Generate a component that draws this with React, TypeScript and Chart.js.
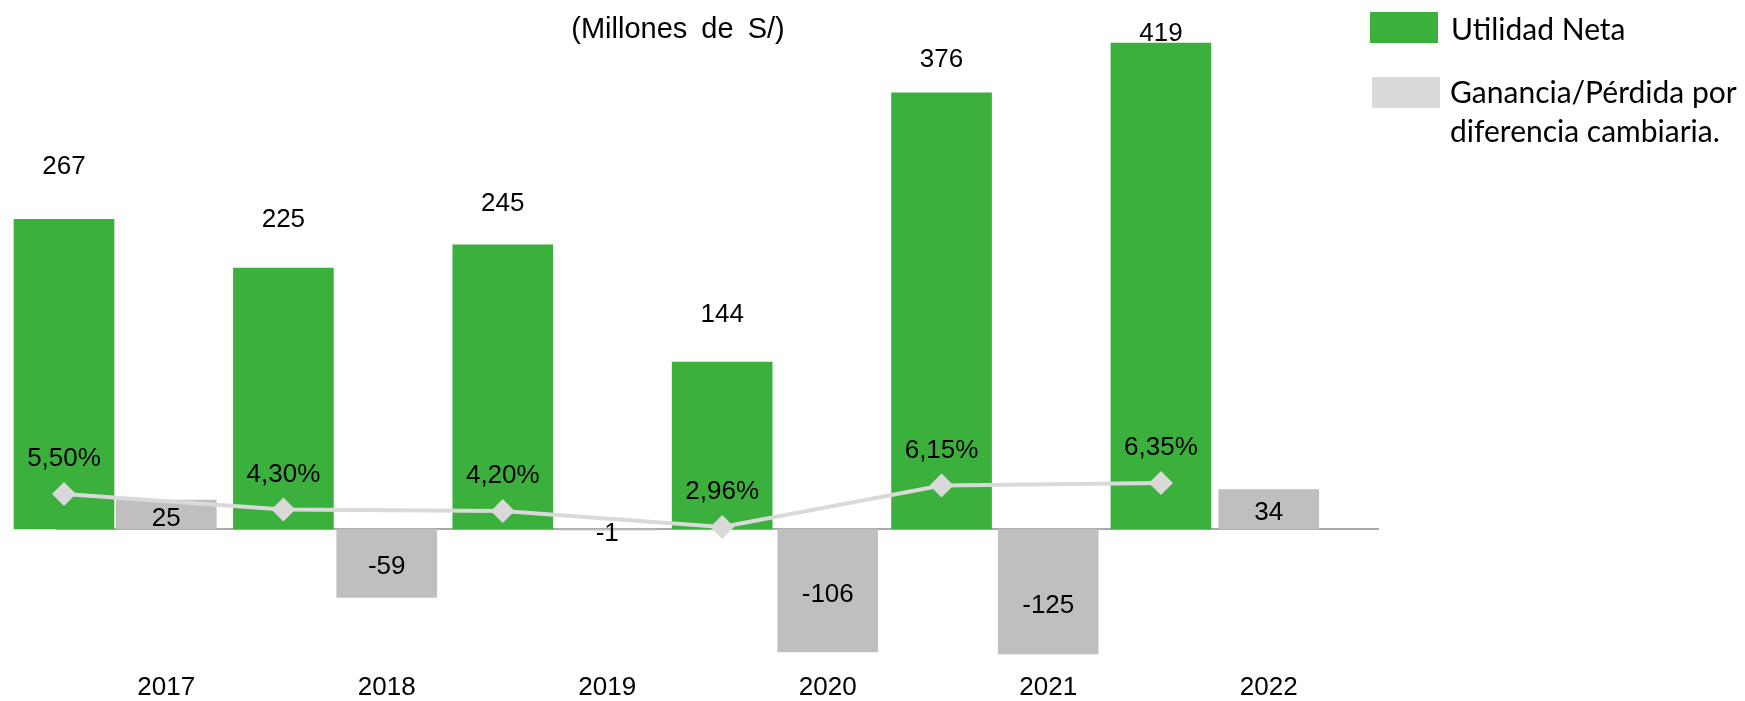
import React, { useEffect, useRef } from "react";
import { Chart, registerables } from "chart.js";

Chart.register(...registerables);

// ---- data ----
const years = ["2017", "2018", "2019", "2020", "2021", "2022"];
const netIncome = [267, 225, 245, 144, 376, 419];
const fxResult = [25, -59, -1, -106, -125, 34];
const netMargin = [5.5, 4.3, 4.2, 2.96, 6.15, 6.35];

// label lift above green bars (px, style)
const netLabelLift = [52, 48, 41, 47, 33, 9];

const TITLE = "(Millones de S/)";
const LEGEND_NET = "Utilidad Neta";
const LEGEND_FX = ["Ganancia/Pérdida por", "diferencia cambiaria."];

const GREEN = "#3cb03c";
const GRAY_BAR = "#bfbfbf";
const GRAY_LINE = "#d9d9d9";
const GRAY_SWATCH = "#d9d9d9";
const ARIAL = '"Liberation Sans", Arial, sans-serif';
const CALIBRI = 'Lato, "Open Sans", sans-serif';

const fmtPct = (v: number) => v.toFixed(2).replace(".", ",") + "%";

const overlayPlugin = {
  id: "overlay",
  beforeDatasetsDraw(chart: any) {
    const { ctx, chartArea } = chart;
    const y0 = chart.scales.y.getPixelForValue(0);
    ctx.save();
    ctx.strokeStyle = "#8c8c8c";
    ctx.lineWidth = 1.5;
    ctx.beginPath();
    ctx.moveTo(chartArea.left, y0);
    ctx.lineTo(chartArea.right, y0);
    ctx.stroke();
    ctx.restore();
  },
  afterDatasetsDraw(chart: any) {
    const { ctx } = chart;
    ctx.save();
    ctx.fillStyle = "#000";
    ctx.textAlign = "center";
    ctx.textBaseline = "middle";
    ctx.font = `26px ${ARIAL}`;

    const lineMeta = chart.getDatasetMeta(0);
    const netMeta = chart.getDatasetMeta(1);
    const fxMeta = chart.getDatasetMeta(2);

    netMeta.data.forEach((el: any, i: number) => {
      ctx.fillText(String(netIncome[i]), el.x, el.y - netLabelLift[i]);
    });
    fxMeta.data.forEach((el: any, i: number) => {
      ctx.fillText(String(fxResult[i]), el.x, (el.y + el.base) / 2 + 4);
    });
    lineMeta.data.forEach((el: any, i: number) => {
      ctx.fillText(fmtPct(netMargin[i]), el.x, el.y - 35);
    });

    // title
    ctx.textBaseline = "alphabetic";
    ctx.font = `29px ${ARIAL}`;
    try {
      (ctx as any).wordSpacing = "6px";
    } catch (e) {}
    ctx.fillText(TITLE, 678, 38);
    try {
      (ctx as any).wordSpacing = "0px";
    } catch (e) {}

    // legend
    ctx.fillStyle = GREEN;
    ctx.fillRect(1370, 12, 68, 31);
    ctx.fillStyle = GRAY_SWATCH;
    ctx.fillRect(1372, 77, 68, 31);
    ctx.fillStyle = "#000";
    ctx.textAlign = "left";
    ctx.font = `30px ${CALIBRI}`;
    ctx.fillText(LEGEND_NET, 1451, 40);
    ctx.fillText(LEGEND_FX[0], 1450, 103);
    ctx.fillText(LEGEND_FX[1], 1450, 142);
    ctx.restore();
  },
};

export default function App() {
  const ref = useRef<HTMLCanvasElement | null>(null);

  useEffect(() => {
    if (!ref.current) return;
    const chart = new Chart(ref.current, {
      type: "bar",
      data: {
        labels: years,
        datasets: [
          {
            type: "line",
            label: "Margen neto",
            data: netMargin.map((v, i) => ({ x: i, y: v })),
            xAxisID: "xg",
            yAxisID: "y1",
            borderColor: GRAY_LINE,
            borderWidth: 4,
            pointStyle: "rectRot",
            pointRadius: 12,
            pointBackgroundColor: GRAY_LINE,
            pointBorderColor: GRAY_LINE,
            pointBorderWidth: 0,
            tension: 0,
            clip: false,
            order: 0,
          } as any,
          {
            type: "bar",
            label: LEGEND_NET,
            data: netIncome.map((v, i) => ({ x: i, y: v })),
            xAxisID: "xg",
            yAxisID: "y",
            backgroundColor: GREEN,
            barThickness: 100,
            grouped: false,
            clip: false,
            order: 1,
          } as any,
          {
            type: "bar",
            label: LEGEND_FX.join(" "),
            data: fxResult,
            xAxisID: "x",
            yAxisID: "y",
            backgroundColor: GRAY_BAR,
            barThickness: 100,
            grouped: false,
            clip: 0,
            order: 2,
          } as any,
        ],
      },
      options: {
        animation: false,
        responsive: true,
        maintainAspectRatio: false,
        layout: { padding: { left: 56, right: 366, top: 18.6, bottom: -20.7 } },
        plugins: { legend: { display: false }, tooltip: { enabled: false } },
        scales: {
          x: {
            type: "category",
            offset: true,
            grid: { display: false, drawTicks: false },
            border: { display: false },
            ticks: {
              color: "#000",
              font: { family: ARIAL, size: 26, lineHeight: 1 },
              padding: 20.7,
              autoSkip: false,
              maxRotation: 0,
            },
          },
          xg: {
            type: "linear",
            display: false,
            offset: false,
            min: -0.0365,
            max: 5.994,
          },
          y: { type: "linear", display: false, min: -108, max: 440 },
          y1: { type: "linear", display: false, min: -6.85, max: 42.13 },
        },
      } as any,
      plugins: [overlayPlugin],
    });
    return () => chart.destroy();
  }, []);

  return (
    <div
      style={{
        position: "fixed",
        left: 0,
        top: 0,
        width: 1745,
        height: 701,
        background: "#fff",
      }}
    >
      <canvas ref={ref} />
    </div>
  );
}
